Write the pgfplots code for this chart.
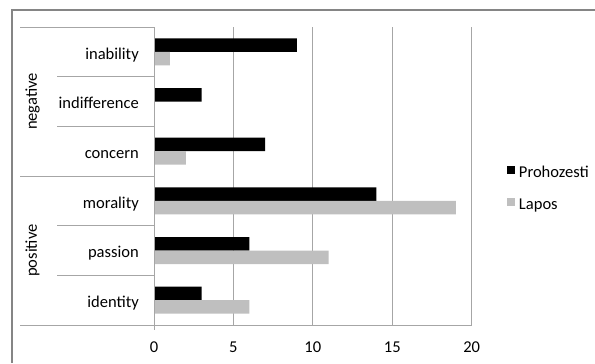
\documentclass[border=0pt]{standalone}
\usepackage{fontspec}
\setmainfont{Carlito}
\usepackage{pgfplots}
\pgfplotsset{compat=1.18}
\definecolor{bargray}{HTML}{BFBFBF}
\definecolor{gridgray}{HTML}{A6A6A6}
\definecolor{framegray}{HTML}{858585}
\newcommand{\lblfont}{\fontsize{16.6}{19.5}\selectfont}
\begin{document}
\begin{tikzpicture}[x=1bp,y=1bp]
\path[use as bounding box] (0,0) rectangle (595,-363);
\draw[framegray, line width=1.4bp] (11.8,-363) -- (11.8,-10) -- (595,-10);
\begin{axis}[
  at={(154bp,-325bp)}, anchor=south west,
  scale only axis, width=317.7bp, height=298bp,
  xmin=0, xmax=20, ymin=-0.5, ymax=5.5,
  xtick={0,5,10,15,20}, ytick={0,1,2,3,4,5},
  yticklabels={identity,passion,morality,concern,indifference,inability},
  xmajorgrids, grid style={gridgray, line width=1bp},
  major tick length=0pt,
  axis line style={draw=none},
  tick label style={font=\lblfont, /pgf/number format/assume math mode=true},
  xticklabel style={anchor=base, yshift=-27.5bp},
  yticklabel style={anchor=base east, inner sep=0pt, xshift=-15bp, yshift=-7.2bp},
  xbar, bar width=13.5bp,
  legend cell align=left,
  legend image code/.code={\fill[#1] (0bp,0bp) rectangle (8.3bp,8.3bp);},
  legend style={draw=none, fill=none, inner sep=0pt, outer sep=0pt,
    at={(1.110,0.5336)}, anchor=north west, font=\lblfont,
    nodes={inner sep=0pt, text height=11bp, text depth=4bp},
    column sep=4bp, row sep=16bp},
]
\addplot[fill=black, draw=none, bar shift=6.75bp] coordinates {(3,0) (6,1) (14,2) (7,3) (3,4) (9,5)};
\addplot[fill=bargray, draw=none, bar shift=-6.75bp] coordinates {(6,0) (11,1) (19,2) (2,3) (0,4) (1,5)};
\legend{Prohozesti,Lapos}
\end{axis}
\draw[gridgray, line width=1bp] (154,-27) -- (154,-330);
\draw[gridgray, line width=1bp] (20,-325) -- (471.7,-325);
\foreach \y in {27,176} \draw[gridgray, line width=1bp] (20,-\y) -- (154,-\y);
\foreach \y in {76.7,126.3,225.7,275.3} \draw[gridgray, line width=1bp] (57,-\y) -- (154,-\y);
\node[rotate=90, font=\lblfont] at (32.5,-101.5) {negative};
\node[rotate=90, font=\lblfont] at (32.5,-250.5) {positive};
\end{tikzpicture}
\end{document}
